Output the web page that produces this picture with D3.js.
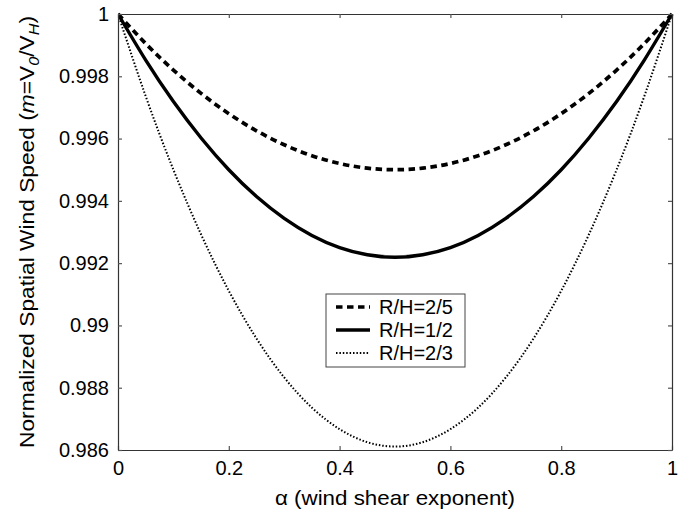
<!DOCTYPE html>
<html lang="en">
<head>
  <meta charset="UTF-8" />
  <title>Normalized Spatial Wind Speed</title>
  <script src="https://d3js.org/d3.v7.min.js"></script>
  <style>
    body { margin: 0; background: #fff; }
    svg { font-family: "Liberation Sans", Arial, sans-serif; }
  </style>
</head>
<body>
  <svg width="700" height="514"></svg>

  <script>
    // values
    const alphaValues = [0, 0.05, 0.1, 0.15, 0.2, 0.25, 0.3, 0.35, 0.4, 0.45, 0.5,
                         0.55, 0.6, 0.65, 0.7, 0.75, 0.8, 0.85, 0.9, 0.95, 1];
    const rh25 = [1, 0.99905, 0.9982, 0.99745, 0.9968, 0.99625, 0.9958, 0.99545, 0.9952, 0.99505, 0.995,
                  0.99505, 0.9952, 0.99545, 0.9958, 0.99625, 0.9968, 0.99745, 0.9982, 0.99905, 1];
    const rh12 = [1, 0.99852, 0.99719, 0.99602, 0.995, 0.99414, 0.99344, 0.99289, 0.9925, 0.99227, 0.99219,
                  0.99227, 0.9925, 0.99289, 0.99344, 0.99414, 0.995, 0.99602, 0.99719, 0.99852, 1];
    const rh23 = [1, 0.99736, 0.995, 0.99292, 0.99111, 0.98958, 0.98833, 0.98736, 0.98667, 0.98625, 0.98611,
                  0.98625, 0.98667, 0.98736, 0.98833, 0.98958, 0.99111, 0.99292, 0.995, 0.99736, 1];
    const seriesNames = ["R/H=2/5", "R/H=1/2", "R/H=2/3"];
    const xTicks = [0, 0.2, 0.4, 0.6, 0.8, 1];
    const yTicks = [0.986, 0.988, 0.99, 0.992, 0.994, 0.996, 0.998, 1];

    const svg = d3.select("svg");
    const m = { left: 118, right: 672, top: 14, bottom: 450 };

    const x = d3.scaleLinear().domain([0, 1]).range([m.left, m.right]);
    const y = d3.scaleLinear().domain([0.986, 1]).range([m.bottom, m.top]);

    const styles = [
      { width: 3.7, dash: "6.5,4.5" },
      { width: 3.4, dash: null },
      { width: 2, dash: "1.5,1.9" }
    ];
    const series = [rh25, rh12, rh23];

    const line = d3.line()
      .x((d, i) => x(alphaValues[i]))
      .y(d => y(d))
      .curve(d3.curveNatural);

    svg.append("clipPath").attr("id", "plotclip")
      .append("rect").attr("x", m.left).attr("y", m.top - 2)
      .attr("width", m.right - m.left + 2).attr("height", m.bottom - m.top + 2);

    series.forEach((s, k) => {
      svg.append("path")
        .attr("d", line(s))
        .attr("fill", "none")
        .attr("stroke", "#000")
        .attr("stroke-width", styles[k].width)
        .attr("stroke-dasharray", styles[k].dash)
        .attr("clip-path", "url(#plotclip)");
    });

    // axes (ticks inside, box all round)
    const fmt = d => String(+d.toFixed(3));
    svg.append("g").attr("transform", `translate(0,${m.bottom})`)
      .call(d3.axisBottom(x).tickValues(xTicks).tickSizeInner(-4).tickSizeOuter(0).tickPadding(11).tickFormat(fmt));
    svg.append("g").attr("transform", `translate(0,${m.top})`)
      .call(d3.axisTop(x).tickValues(xTicks).tickSizeInner(-4).tickSizeOuter(0).tickFormat(""));
    svg.append("g").attr("transform", `translate(${m.left},0)`)
      .call(d3.axisLeft(y).tickValues(yTicks).tickSizeInner(-4).tickSizeOuter(0).tickPadding(9).tickFormat(fmt));
    svg.append("g").attr("transform", `translate(${m.right},0)`)
      .call(d3.axisRight(y).tickValues(yTicks).tickSizeInner(-4).tickSizeOuter(0).tickFormat(""));

    svg.selectAll(".domain").attr("stroke", "#333").attr("stroke-width", 1.2);
    svg.selectAll(".tick line").attr("stroke", "#555").attr("stroke-width", 1.2);
    svg.selectAll(".tick text")
      .attr("font-family", "Liberation Sans, Arial, sans-serif")
      .attr("font-size", 20).attr("fill", "#000");

    // axis titles
    svg.append("text")
      .attr("x", 395).attr("y", 505)
      .attr("text-anchor", "middle").attr("font-size", 21)
      .attr("textLength", 240).attr("lengthAdjust", "spacingAndGlyphs")
      .text("\u03b1 (wind shear exponent)");

    const yt = svg.append("text")
      .attr("transform", `translate(34,${(m.top + m.bottom) / 2}) rotate(-90)`)
      .attr("text-anchor", "middle").attr("font-size", 21)
      .attr("textLength", 432).attr("lengthAdjust", "spacingAndGlyphs");
    yt.append("tspan").text("Normalized Spatial Wind Speed  (");
    yt.append("tspan").attr("font-style", "italic").text("m");
    yt.append("tspan").text("=V");
    yt.append("tspan").attr("font-style", "italic").attr("font-size", 15).attr("dy", 5).text("0");
    yt.append("tspan").attr("dy", -5).text("/V");
    yt.append("tspan").attr("font-style", "italic").attr("font-size", 15).attr("dy", 5).text("H");
    yt.append("tspan").attr("dy", -5).text(")");

    // legend
    const lg = svg.append("g");
    lg.append("rect").attr("x", 326).attr("y", 294).attr("width", 139).attr("height", 73)
      .attr("fill", "#fff").attr("stroke", "#444").attr("stroke-width", 1);
    const rowY = [307, 330, 353];
    seriesNames.forEach((name, k) => {
      lg.append("line")
        .attr("x1", 336).attr("x2", 370).attr("y1", rowY[k]).attr("y2", rowY[k])
        .attr("stroke", "#000").attr("stroke-width", styles[k].width)
        .attr("stroke-dasharray", styles[k].dash);
      lg.append("text").attr("x", 379).attr("y", rowY[k] + 7)
        .attr("font-size", 20).text(name);
    });
  </script>
</body>
</html>
